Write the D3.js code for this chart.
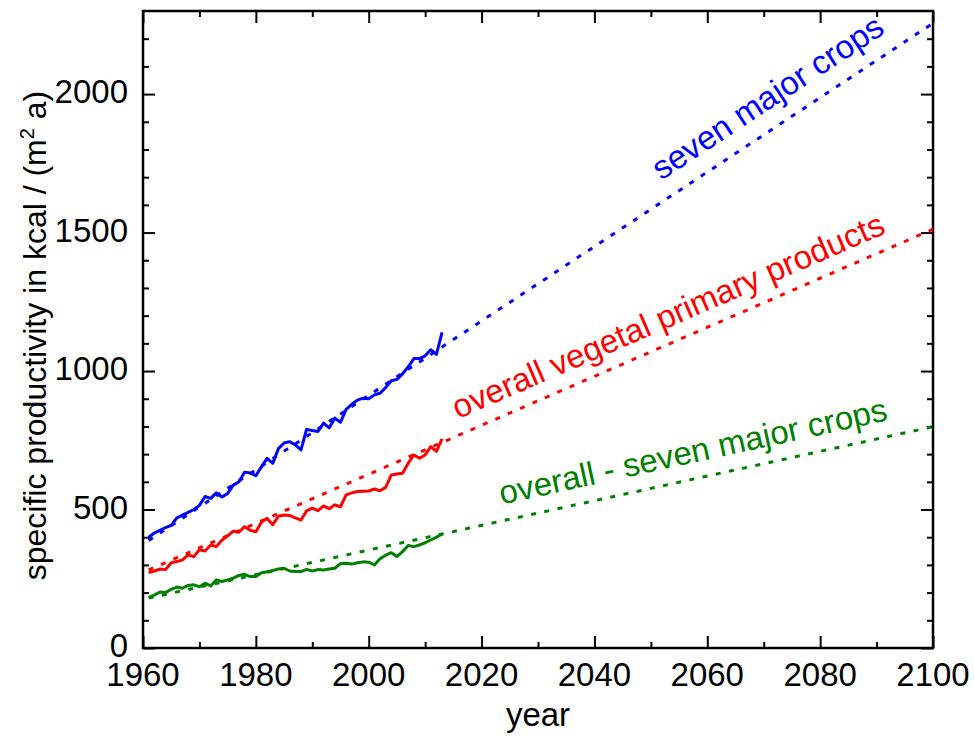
<!DOCTYPE html>
<html>
<head>
<meta charset="utf-8">
<script src="https://cdn.jsdelivr.net/npm/d3@7"></script>
<style>
  body { margin: 0; background: #fff; }
  text { font-family: "Liberation Sans", Arial, sans-serif; }
</style>
</head>
<body>
<svg id="chart"></svg>
<script>
// yearly values 1961..2013, kcal per m2 and year
const years = d3.range(1961, 2014);
const seven_major = [
  400, 415, 425, 435, 443, 470, 480, 490, 500, 515,
  547, 540, 560, 545, 558, 588, 600, 635, 632, 622,
  655, 685, 667, 720, 740, 745, 733, 715, 790, 785,
  782, 812, 795, 830, 815, 862, 880, 895, 902, 900,
  914, 920, 940, 965, 970, 990, 1015, 1045, 1045, 1055,
  1077, 1060, 1140
];
const overall = [
  272, 278, 285, 283, 308, 312, 318, 336, 330, 355,
  350, 372, 366, 390, 405, 422, 418, 438, 425, 420,
  455, 468, 445, 476, 480, 478, 470, 462, 495, 505,
  496, 513, 503, 517, 510, 553, 560, 565, 566, 567,
  574, 568, 580, 625, 628, 631, 667, 697, 685, 697,
  727, 710, 755
];
const overall_minus_seven = [
  183, 191, 202, 200, 212, 220, 216, 226, 228, 221,
  234, 224, 246, 240, 246, 252, 262, 266, 258, 258,
  272, 275, 280, 285, 288, 278, 276, 276, 284, 278,
  283, 282, 285, 288, 305, 306, 303, 308, 311, 310,
  300, 322, 335, 344, 330, 348, 370, 366, 372, 380,
  390, 400, 412
];

// linear extrapolation, start and end
const trend_years = [1961, 2100];
const trend_seven = [388, 2256];
const trend_overall = [282, 1512];
const trend_minus = [180, 799];

const series_names = ['seven major crops', 'overall vegetal primary products', 'overall - seven major crops'];
const series_colors = ['#0000ff', '#ff0000', '#008000'];

const xticks_major = [1960, 1980, 2000, 2020, 2040, 2060, 2080, 2100];
const xticks_minor = [1970, 1990, 2010, 2030, 2050, 2070, 2090];
const yticks_major = [0, 500, 1000, 1500, 2000];
const yticks_minor = [100, 200, 300, 400, 600, 700, 800, 900, 1100, 1200, 1300, 1400, 1600, 1700, 1800, 1900, 2100, 2200];

const width = 974, height = 736;
const margin = {top: 11, right: 41, bottom: 88, left: 143};
const inner_width = width - margin.left - margin.right;
const inner_height = height - margin.top - margin.bottom;
const font_size = 33;

const svg = d3.select('#chart')
    .attr('width', width)
    .attr('height', height);

const chart = svg.append('g')
    .attr('transform', `translate(${margin.left}, ${margin.top})`);

const xscale = d3.scaleLinear().domain([1960, 2100]).range([0, inner_width]);
const yscale = d3.scaleLinear().domain([0, 2300]).range([inner_height, 0]);

// ticks point inwards on all four sides
function tickAxis(axis, scale, values, size) {
    return axis(scale).tickValues(values).tickSize(-size).tickFormat('');
}

const axis_bottom = chart.append('g').attr('transform', `translate(0, ${inner_height})`);
axis_bottom.append('g').call(tickAxis(d3.axisBottom, xscale, xticks_minor, 6));
axis_bottom.append('g').call(tickAxis(d3.axisBottom, xscale, xticks_major, 12));
const axis_top = chart.append('g');
axis_top.append('g').call(tickAxis(d3.axisTop, xscale, xticks_minor, 6));
axis_top.append('g').call(tickAxis(d3.axisTop, xscale, xticks_major, 12));
const axis_left = chart.append('g');
axis_left.append('g').call(tickAxis(d3.axisLeft, yscale, yticks_minor, 6));
axis_left.append('g').call(tickAxis(d3.axisLeft, yscale, yticks_major, 12));
const axis_right = chart.append('g').attr('transform', `translate(${inner_width}, 0)`);
axis_right.append('g').call(tickAxis(d3.axisRight, yscale, yticks_minor, 6));
axis_right.append('g').call(tickAxis(d3.axisRight, yscale, yticks_major, 12));

chart.selectAll('.domain').remove();
chart.selectAll('.tick line').attr('stroke', '#000').attr('stroke-width', 2);

chart.append('rect')
    .attr('width', inner_width)
    .attr('height', inner_height)
    .attr('fill', 'none')
    .attr('stroke', '#000')
    .attr('stroke-width', 2.5);

// tick labels
chart.selectAll('.xlabel')
    .data(xticks_major)
    .join('text')
    .attr('class', 'xlabel')
    .attr('x', d => xscale(d))
    .attr('y', inner_height + 38)
    .attr('text-anchor', 'middle')
    .style('font-size', font_size + 'px')
    .text(d => d);

chart.selectAll('.ylabel')
    .data(yticks_major)
    .join('text')
    .attr('class', 'ylabel')
    .attr('x', -15)
    .attr('y', d => yscale(d) + 9)
    .attr('text-anchor', 'end')
    .style('font-size', font_size + 'px')
    .text(d => d);

svg.append('text')
    .attr('x', margin.left + inner_width / 2)
    .attr('y', height - 10)
    .attr('text-anchor', 'middle')
    .style('font-size', font_size + 'px')
    .text('year');

const ytitle = svg.append('text')
    .attr('transform', `translate(46, ${margin.top + inner_height / 2 + 6}) rotate(-90)`)
    .attr('text-anchor', 'middle')
    .style('font-size', '32px');
ytitle.append('tspan').text('specific productivity in kcal / (m');
ytitle.append('tspan').attr('dy', -12).style('font-size', '20px').text('2');
ytitle.append('tspan').attr('dy', 12).text(' a)');

// data
const plot = chart.append('g');
const line = d3.line()
    .x(d => xscale(d[0]))
    .y(d => yscale(d[1]));

const trends = [trend_seven, trend_overall, trend_minus];
const values = [seven_major, overall, overall_minus_seven];

trends.forEach((t, i) => {
    plot.append('path')
        .datum(trend_years.map((y, j) => [y, t[j]]))
        .attr('d', line)
        .attr('fill', 'none')
        .attr('stroke', series_colors[i])
        .attr('stroke-width', 3)
        .attr('stroke-dasharray', '5,8.5');
});

values.forEach((v, i) => {
    plot.append('path')
        .datum(years.map((y, j) => [y, v[j]]))
        .attr('d', line)
        .attr('fill', 'none')
        .attr('stroke', series_colors[i])
        .attr('stroke-width', 3)
        .attr('stroke-linejoin', 'round');
});

// series names written along the extrapolation
const label_years = [2053.6, 2016.9, 2024.2];
const label_offsets = [18, 15, 16];
trends.forEach((t, i) => {
    const x0 = xscale(trend_years[0]), y0 = yscale(t[0]);
    const x1 = xscale(trend_years[1]), y1 = yscale(t[1]);
    const angle = Math.atan2(y1 - y0, x1 - x0) * 180 / Math.PI;
    const slope = (t[1] - t[0]) / (trend_years[1] - trend_years[0]);
    const yr = label_years[i];
    const px = xscale(yr);
    const py = yscale(t[0] + slope * (yr - trend_years[0]));
    plot.append('text')
        .attr('transform', `translate(${px}, ${py}) rotate(${angle}) translate(0, ${-label_offsets[i]})`)
        .attr('fill', series_colors[i])
        .style('font-size', '33px')
        .text(series_names[i]);
});
</script>
</body>
</html>
